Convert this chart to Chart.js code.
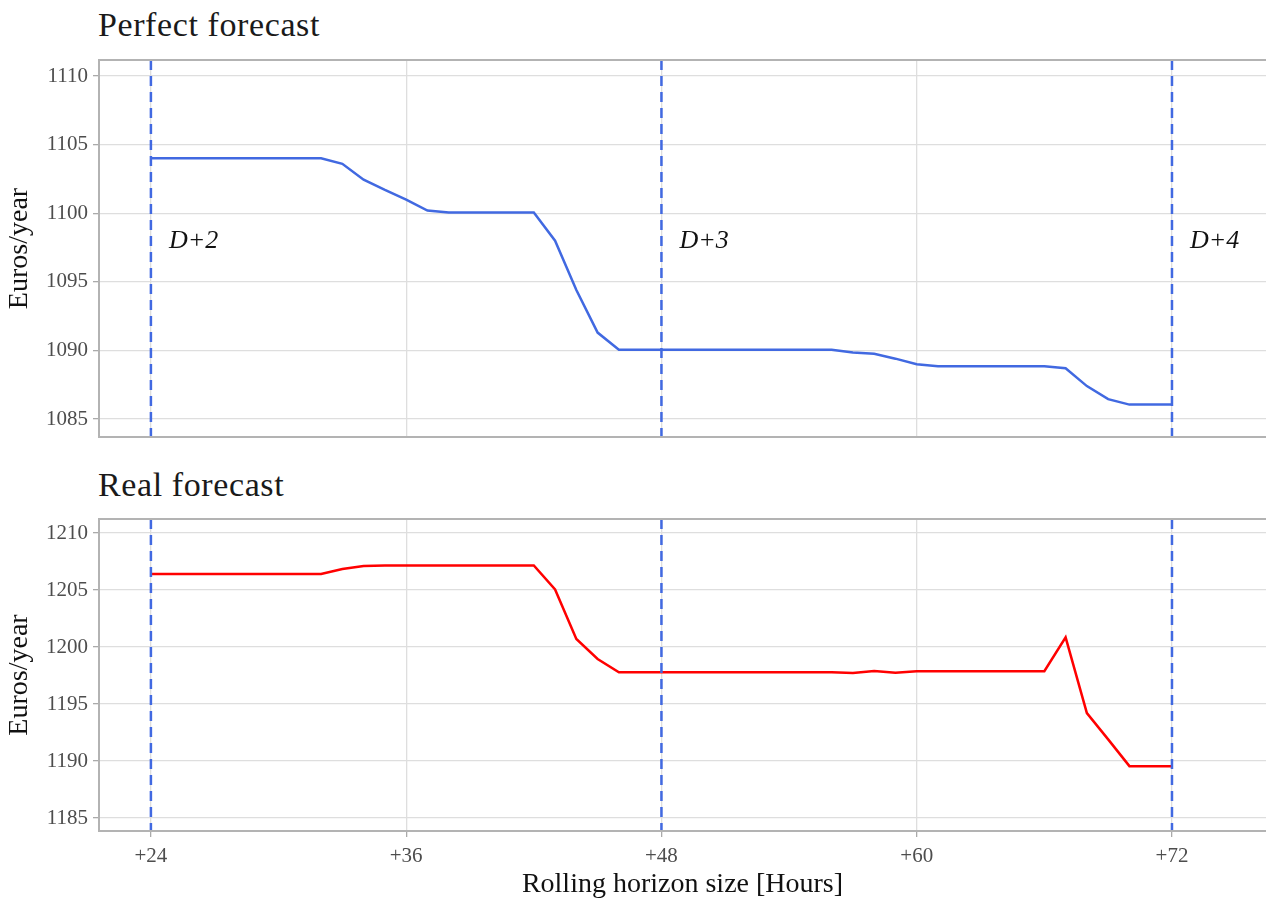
<!DOCTYPE html>
<html>
<head>
<meta charset="utf-8">
<script src="https://cdn.jsdelivr.net/npm/chart.js@4"></script>
<style>
  body { margin: 0; background: #fff; width: 1266px; height: 900px; position: relative; overflow: hidden; font-family: 'Liberation Serif', serif; }
  .ttl { position: absolute; left: 98px; font-size: 34px; letter-spacing: 0.6px; color: #1a1a1a; line-height: 1; }
  canvas { position: absolute; left: 0; }
</style>
</head>
<body>
<div class="ttl" style="top:8px">Perfect forecast</div>
<div class="ttl" style="top:468px">Real forecast</div>
<canvas id="chartTop" width="1266" height="460" style="top:0"></canvas>
<canvas id="chartBottom" width="1266" height="440" style="top:460px"></canvas>
<script>
const hours = [24, 25, 26, 27, 28, 29, 30, 31, 32, 33, 34, 35, 36, 37, 38, 39, 40, 41, 42, 43, 44, 45, 46, 47, 48,
  49, 50, 51, 52, 53, 54, 55, 56, 57, 58, 59, 60, 61, 62, 63, 64, 65, 66, 67, 68, 69, 70, 71, 72];

const perfect = [1104.0, 1104.0, 1104.0, 1104.0, 1104.0, 1104.0, 1104.0, 1104.0, 1104.0,
  1103.6, 1102.45, 1101.7, 1101.0, 1100.2,
  1100.05, 1100.05, 1100.05, 1100.05, 1100.05,
  1098.0, 1094.4, 1091.3,
  1090.05, 1090.05, 1090.05, 1090.05, 1090.05, 1090.05, 1090.05, 1090.05, 1090.05, 1090.05, 1090.05,
  1089.85, 1089.75, 1089.4, 1089.0,
  1088.85, 1088.85, 1088.85, 1088.85, 1088.85, 1088.85,
  1088.7, 1087.4, 1086.45,
  1086.05, 1086.05, 1086.05];

const real = [1206.4, 1206.4, 1206.4, 1206.4, 1206.4, 1206.4, 1206.4, 1206.4, 1206.4,
  1206.85, 1207.1,
  1207.15, 1207.15, 1207.15, 1207.15, 1207.15, 1207.15, 1207.15, 1207.15,
  1205.05, 1200.7, 1198.95,
  1197.78, 1197.78, 1197.78, 1197.78, 1197.78, 1197.78, 1197.78, 1197.78, 1197.78, 1197.78, 1197.78,
  1197.72, 1197.9, 1197.75, 1197.88,
  1197.88, 1197.88, 1197.88, 1197.88, 1197.88, 1197.88,
  1200.85, 1194.2, 1191.9,
  1189.55, 1189.55, 1189.55];

const xTicks = [24, 36, 48, 60, 72];
const yTicksTop = [1085, 1090, 1095, 1100, 1105, 1110];
const yTicksBottom = [1185, 1190, 1195, 1200, 1205, 1210];

const dayLines = [24, 48, 72];
const dayLabels = ['D+2', 'D+3', 'D+4'];
const dayLabelY = 1098;

const serif = "'Liberation Serif', serif";
const gridCol = '#dedede';
const borderCol = '#b3b3b3';

// dashed day markers, labels and panel border
const decor = {
  id: 'decor',
  afterDatasetsDraw(chart, args, opts) {
    const { ctx, chartArea: a, scales: { x, y } } = chart;
    ctx.save();
    ctx.strokeStyle = '#4169E1';
    ctx.lineWidth = 2.5;
    ctx.setLineDash([10, 6]);
    dayLines.forEach((d) => {
      const px = x.getPixelForValue(d);
      ctx.beginPath();
      ctx.moveTo(px, a.top);
      ctx.lineTo(px, a.bottom);
      ctx.stroke();
    });
    ctx.setLineDash([]);
    if (opts.labels) {
      ctx.fillStyle = '#111';
      ctx.font = "italic 26px " + serif;
      ctx.textBaseline = 'middle';
      dayLines.forEach((d, i) => {
        ctx.fillText(dayLabels[i], x.getPixelForValue(d) + 18, y.getPixelForValue(dayLabelY));
      });
    }
    ctx.strokeStyle = borderCol;
    ctx.lineWidth = 2;
    ctx.strokeRect(a.left, a.top, a.right - a.left + 2, a.bottom - a.top);
    ctx.restore();
  }
};

function makeChart(id, values, color, yTicks, yMin, yMax, bottom) {
  const ctx = document.getElementById(id).getContext('2d');
  return new Chart(ctx, {
    type: 'line',
    data: {
      datasets: [{
        data: hours.map((h, i) => ({ x: h, y: values[i] })),
        borderColor: color,
        borderWidth: 2.5,
        pointRadius: 0,
        tension: 0,
        fill: false
      }]
    },
    options: {
      responsive: false,
      animation: false,
      layout: { padding: { top: bottom ? 59 : 60, left: 0, right: 0, bottom: 0 } },
      plugins: {
        legend: { display: false },
        tooltip: { enabled: false },
        decor: { labels: !bottom }
      },
      scales: {
        x: {
          type: 'linear',
          min: 21.56,
          max: 76.42,
          afterBuildTicks: (s) => { s.ticks = xTicks.map((v) => ({ value: v })); },
          afterFit: (s) => { s.height = bottom ? 69 : 23; },
          grid: { color: gridCol, lineWidth: 1.3, drawTicks: bottom, tickLength: 6, tickColor: '#aaa' },
          border: { display: false },
          ticks: {
            display: bottom,
            padding: 7,
            color: '#4d4d4d',
            font: { family: serif, size: 21 },
            callback: (v) => '+' + v
          },
          title: {
            display: bottom,
            text: 'Rolling horizon size [Hours]',
            color: '#111',
            font: { family: serif, size: 28, lineHeight: 1 },
            padding: { top: 0, bottom: 1 }
          }
        },
        y: {
          min: yMin,
          max: yMax,
          afterBuildTicks: (s) => { s.ticks = yTicks.map((v) => ({ value: v })); },
          afterFit: (s) => { s.width = 99; },
          grid: { color: gridCol, lineWidth: 1.3, tickLength: 6, tickColor: '#aaa' },
          border: { display: false },
          ticks: {
            padding: 5,
            color: '#4d4d4d',
            font: { family: serif, size: 21 },
            callback: (v) => String(v)
          },
          title: {
            display: true,
            text: 'Euros/year',
            color: '#111',
            font: { family: serif, size: 28, lineHeight: 1 },
            padding: { top: 6, bottom: 4 }
          }
        }
      }
    },
    plugins: [decor]
  });
}

makeChart('chartTop', perfect, '#4169E1', yTicksTop, 1083.69, 1111.17, false);
makeChart('chartBottom', real, '#FF0000', yTicksBottom, 1183.86, 1211.23, true);
</script>
</body>
</html>
